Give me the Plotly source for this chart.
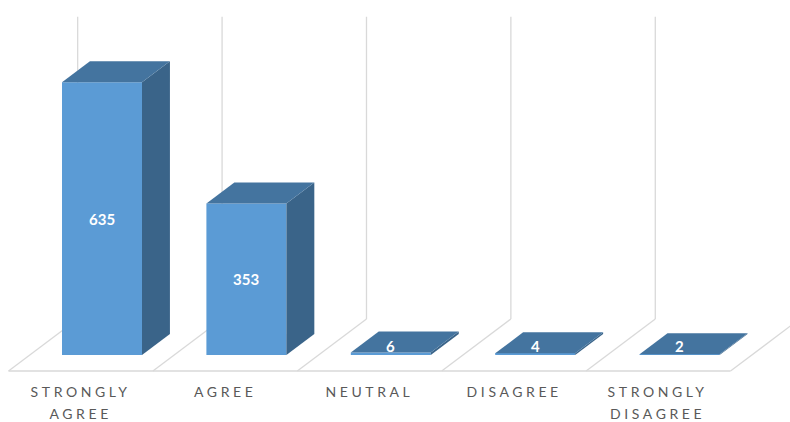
import plotly.graph_objects as go

# ---------------- data ----------------
categories = ["STRONGLY<br>AGREE", "AGREE", "NEUTRAL", "DISAGREE", "STRONGLY<br>DISAGREE"]
values = [635, 353, 6, 4, 2]
wall_max = 700

# ---------------- styles / geometry ----------------
W, H = 790, 422
PX_PER_CAT = 144.4          # pixels per category slot
PX_PER_VAL = 0.4295         # pixels per value unit
ORIGIN_X = 102.0            # pixel x of first bar-front centre
ORIGIN_Y = 355.0            # pixel y of value 0 at bar-front depth
KX = 1.33 / PX_PER_CAT      # x shift (category units) per depth pixel
KY = 1.0 / PX_PER_VAL       # y shift (value units) per depth pixel
HW = 40.0 / PX_PER_CAT      # half bar width
D_FLOOR_FRONT, D_BAR_BACK, D_FLOOR_BACK = -16, 21, 36
LABEL_MIN = 22
CAT_LABEL_Y = -61.0

FRONT = "#5B9BD5"
TOP = "#44749F"
SIDE = "#3A6489"
GRID = "#D9D9D9"
TEXT_GREY = "#595959"

x_range = [-ORIGIN_X / PX_PER_CAT, (W - ORIGIN_X) / PX_PER_CAT]
y_range = [-(H - ORIGIN_Y) / PX_PER_VAL, ORIGIN_Y / PX_PER_VAL]


def P(u, v, d):
    return (u + d * KX, v + d * KY)


def path(pts):
    return "M " + " L ".join(f"{x:.5f},{y:.5f}" for x, y in pts) + " Z"


idx = list(range(len(categories)))
shapes = []

# back-wall vertical gridlines
for b in range(len(categories) + 1):
    u = b - 0.5
    x0, y0 = P(u, 0, D_FLOOR_BACK)
    x1, y1 = P(u, wall_max, D_FLOOR_BACK)
    shapes.append(dict(type="line", xref="x", yref="y", x0=x0, y0=y0, x1=x1, y1=y1 + 4,
                       line=dict(color=GRID, width=1.3), layer="below"))

# floor outline
fx0, fy0 = P(-0.5, 0, D_FLOOR_FRONT)
fx1, fy1 = P(len(categories) - 0.5, 0, D_FLOOR_FRONT)
shapes.append(dict(type="line", xref="x", yref="y", x0=fx0, y0=fy0, x1=fx1, y1=fy1,
                   line=dict(color=GRID, width=1.3), layer="below"))
for b in range(len(categories) + 1):
    u = b - 0.5
    x0, y0 = P(u, 0, D_FLOOR_FRONT)
    x1, y1 = P(u, 0, D_FLOOR_BACK)
    shapes.append(dict(type="line", xref="x", yref="y", x0=x0, y0=y0, x1=x1, y1=y1,
                       line=dict(color=GRID, width=1.3), layer="below"))

# 3D faces of bars
for i, v in zip(idx, values):
    top = [P(i - HW, v, 0), P(i + HW, v, 0), P(i + HW, v, D_BAR_BACK), P(i - HW, v, D_BAR_BACK)]
    side = [P(i + HW, 0, 0), P(i + HW, v, 0), P(i + HW, v, D_BAR_BACK), P(i + HW, 0, D_BAR_BACK)]
    shapes.append(dict(type="path", xref="x", yref="y", path=path(side),
                       fillcolor=SIDE, line=dict(width=0), layer="above"))
    shapes.append(dict(type="path", xref="x", yref="y", path=path(top),
                       fillcolor=TOP, line=dict(width=0), layer="above"))

annotations = []
# category labels (front floor centres)
for i, c in zip(idx, categories):
    annotations.append(dict(x=i + D_FLOOR_FRONT * KX, y=CAT_LABEL_Y, xref="x", yref="y",
                            text=c, showarrow=False, xanchor="center", yanchor="top",
                            font=dict(family="Lato", size=14, color=TEXT_GREY)))
# value labels
for i, v in zip(idx, values):
    annotations.append(dict(x=i, y=max(v / 2, LABEL_MIN), xref="x", yref="y",
                            text=str(v), showarrow=False, xanchor="center", yanchor="middle",
                            font=dict(family="Lato", size=15, color="white", weight="bold")))

fig = go.Figure()
fig.add_trace(go.Bar(x=idx, y=values, width=2 * HW, marker=dict(color=FRONT, line=dict(width=0)),
                     customdata=[c.replace("<br>", " ") for c in categories],
                     hovertemplate="%{customdata}: %{y}<extra></extra>"))

fig.update_layout(
    width=W, height=H, autosize=False,
    margin=dict(l=0, r=0, t=0, b=0),
    paper_bgcolor="white", plot_bgcolor="white",
    showlegend=False,
    shapes=shapes, annotations=annotations,
    xaxis=dict(range=x_range, visible=False, showgrid=False, zeroline=False, fixedrange=True),
    yaxis=dict(range=y_range, visible=False, showgrid=False, zeroline=False, fixedrange=True),
)

post_script = """
var gd = document.getElementById('{plot_id}');
function fixLabels(){
  gd.querySelectorAll('text.annotation-text').forEach(function(t){
    var st = t.getAttribute('style') || '';
    if (st.indexOf('89, 89, 89') < 0) return;
    t.style.letterSpacing = '3.6px';
    var ls = t.querySelectorAll('tspan.line');
    for (var k = 1; k < ls.length; k++) ls[k].setAttribute('dy', '1.55em');
  });
}
fixLabels();
"""

fig.write_html("out.html", post_script=post_script, config={"displayModeBar": False})
